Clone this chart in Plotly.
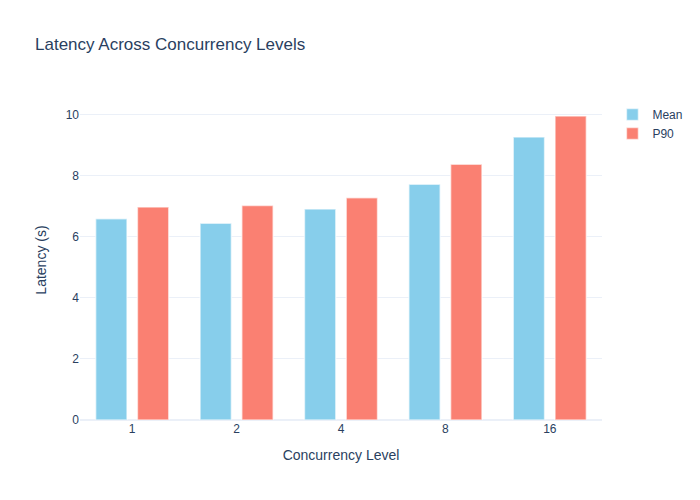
import plotly.graph_objects as go

concurrency = ["1", "2", "4", "8", "16"]
mean_latency = [6.59, 6.45, 6.91, 7.72, 9.27]
p90_latency = [6.98, 7.03, 7.28, 8.38, 9.96]

fig = go.Figure()
fig.add_trace(go.Bar(x=concurrency, y=mean_latency, name="Mean",
                     marker=dict(color="skyblue", line=dict(color="rgba(255,255,255,0.6)", width=1.5))))
fig.add_trace(go.Bar(x=concurrency, y=p90_latency, name="P90",
                     marker=dict(color="salmon", line=dict(color="rgba(255,255,255,0.6)", width=1.5))))

fig.update_layout(
    template="plotly_white",
    font=dict(family="Arial"),
    title="Latency Across Concurrency Levels",
    xaxis_title="Concurrency Level",
    yaxis_title="Latency (s)",
    barmode="group",
    bargap=0.2,
    bargroupgap=0.25,
    width=700,
    height=500,
)
fig.update_xaxes(type="category")

# the page adds an 8px body margin, drop it so the chart fills the window
fig.write_html("out.html", config={"displayModeBar": False},
               post_script="document.body.style.margin='0';")
